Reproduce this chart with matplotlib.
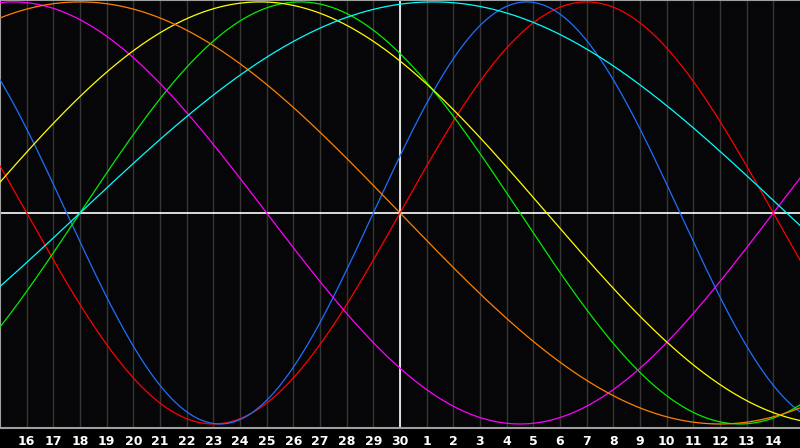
import numpy as np
import matplotlib
matplotlib.use('Agg')
import matplotlib.pyplot as plt

# day labels under the chart, centre day ("30") is offset 0
day_labels = ['16', '17', '18', '19', '20', '21', '22', '23', '24', '25', '26', '27', '28', '29',
              '30', '1', '2', '3', '4', '5', '6', '7', '8', '9', '10', '11', '12', '13', '14']
day_offsets = list(range(-14, 15))

# cycle lengths (days) and position in the cycle on the centre day
periods = [28, 23, 33, 38, 43, 48, 53]
phases = [0, 1, 12, 24, 16, 24, 12]
colors = ['#ff0000', '#1f6fff', '#00ee00', '#ff00ff', '#ffff00', '#ff8000', '#00ffff']

fig = plt.figure(figsize=(8, 4.48), dpi=100, facecolor='#000000')
ax = fig.add_axes([0, 20 / 448, 1, 428 / 448])
ax.set_facecolor('#060608')

# day grid
for d in day_offsets:
    ax.axvline(d, color='#353535', linewidth=1, zorder=1)

ax.axvline(0, color='#ffffff', linewidth=1.2, zorder=2)
ax.axhline(0, color='#ffffff', linewidth=1.2, zorder=2)

t = np.linspace(-15, 15, 1600)
for p, ph, c in zip(periods, phases, colors):
    ax.plot(t, np.sin(2 * np.pi * (t + ph) / p), color=c, linewidth=0.9, zorder=3)

ax.set_xlim(-15, 15)
ax.set_ylim(-1.019, 1.009)

ax.set_xticks(day_offsets)
ax.set_xticklabels(day_labels, color='white', fontsize=9, fontweight='bold', family='DejaVu Sans')
ax.tick_params(axis='x', length=0, pad=5)
ax.set_yticks([])

for side in ['left', 'top', 'bottom']:
    ax.spines[side].set_color('#a0a0a0')
    ax.spines[side].set_linewidth(1.5)
ax.spines['right'].set_visible(False)

plt.savefig('out.png', dpi=100, facecolor=fig.get_facecolor())
